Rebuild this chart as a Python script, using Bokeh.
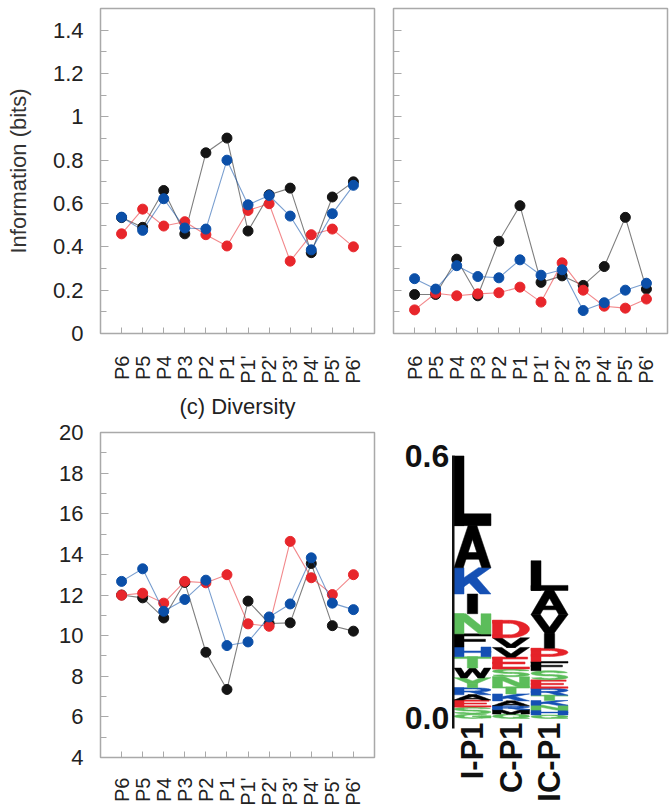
import math
import numpy as np
from bokeh.plotting import figure
from bokeh.models import FixedTicker, Range1d
from bokeh.core.properties import value
from bokeh.layouts import row, column
from bokeh.embed import file_html
from bokeh.resources import INLINE

# ---------------- data ----------------
positions = ["P6", "P5", "P4", "P3", "P2", "P1", "P1'", "P2'", "P3'", "P4'", "P5'", "P6'"]

info_left_black = [0.535, 0.49, 0.66, 0.46, 0.834, 0.902, 0.473, 0.64, 0.671, 0.373, 0.63, 0.70]
info_left_blue = [0.537, 0.476, 0.622, 0.487, 0.482, 0.80, 0.594, 0.637, 0.542, 0.386, 0.553, 0.684]
info_left_red = [0.46, 0.574, 0.496, 0.516, 0.456, 0.404, 0.568, 0.599, 0.334, 0.456, 0.482, 0.40]

info_right_black = [0.18, 0.18, 0.343, 0.174, 0.426, 0.59, 0.236, 0.266, 0.222, 0.309, 0.536, 0.205]
info_right_blue = [0.253, 0.205, 0.313, 0.263, 0.257, 0.34, 0.269, 0.294, 0.106, 0.142, 0.20, 0.232]
info_right_red = [0.109, 0.186, 0.174, 0.183, 0.188, 0.214, 0.145, 0.326, 0.20, 0.126, 0.117, 0.159]

diversity_black = [12.0, 11.86, 10.87, 12.62, 9.18, 7.35, 11.70, 10.6, 10.63, 13.55, 10.49, 10.22]
diversity_blue = [12.67, 13.29, 11.20, 11.78, 12.73, 9.51, 9.69, 10.92, 11.56, 13.83, 11.60, 11.28]
diversity_red = [11.99, 12.09, 11.60, 12.67, 12.60, 13.0, 10.58, 10.46, 14.64, 12.85, 12.02, 13.0]

info_yticks = [0, 0.2, 0.4, 0.6, 0.8, 1.0, 1.2, 1.4]
info_yminor = [0.1, 0.3, 0.5, 0.7, 0.9, 1.1, 1.3, 1.5]
div_yticks = [4, 6, 8, 10, 12, 14, 16, 18, 20]
div_yminor = [5, 7, 9, 11, 13, 15, 17, 19]
diversity_title = "(c) Diversity"

logo_columns = ["I-P1", "C-P1", "IC-P1"]
# stacks listed bottom -> top: letters and heights (bits)
logo_i_letters = ["G", "S", "E", "A", "R", "Y", "W", "T", "H", "F", "N", "I", "K", "A", "L"]
logo_i_heights = [0.010, 0.016, 0.016, 0.012, 0.016, 0.023, 0.022, 0.026, 0.022, 0.030, 0.046, 0.045, 0.060, 0.096, 0.159]
logo_c_letters = ["Q", "M", "R", "A", "K", "T", "N", "S", "E", "V", "V", "D"]
logo_c_heights = [0.010, 0.010, 0.009, 0.011, 0.016, 0.016, 0.023, 0.018, 0.027, 0.022, 0.022, 0.040]
logo_ic_letters = ["Q", "H", "N", "K", "T", "R", "E", "S", "F", "P", "I", "V", "A", "L"]
logo_ic_heights = [0.008, 0.011, 0.011, 0.011, 0.012, 0.016, 0.019, 0.021, 0.021, 0.030, 0.034, 0.043, 0.055, 0.068]
logo_ticks = [0.0, 0.6]
logo_tick_labels = ["0.0", "0.6"]

# ---------------- style / layout ----------------
FONT = "Liberation Sans"
AX = "#a9a9a9"
TXT = "#222222"
C_BLACK = "#141414"
C_BLUE = "#0b4fa8"
C_RED = "#e8262b"
L_BLUE = "#1550b4"
L_GREEN = "#5cbd5b"
L_RED = "#e52229"

FRAME_W, FRAME_H = 274, 325
LEFT_COL = (100, 10)
RIGHT_COL = (9, 2)
TOP_ROW = (8, 88)
BOT_ROW = (11, 54)

LETTER_COLORS = {
    "L": "#000000", "A": "#000000", "V": "#000000", "I": "#000000", "F": "#000000",
    "W": "#000000", "M": "#000000", "K": L_BLUE, "R": L_BLUE, "H": L_BLUE,
    "N": L_GREEN, "S": L_GREEN, "T": L_GREEN, "Y": L_GREEN, "G": L_GREEN, "Q": L_GREEN,
    "D": L_RED, "E": L_RED, "P": L_RED,
}


def line_panel(col, rw, y_lo, y_hi, yticks, yminor, series,
               show_ylabels, ylabel=None, xlabel=None, x_standoff=22):
    p = figure(frame_width=FRAME_W, frame_height=FRAME_H, output_backend="svg", toolbar_location=None,
               x_range=Range1d(-1, 12), y_range=Range1d(y_lo, y_hi),
               min_border_left=col[0], min_border_right=col[1],
               min_border_top=rw[0], min_border_bottom=rw[1])
    p.grid.visible = False
    p.outline_line_color = AX
    p.outline_line_width = 1.5
    p.background_fill_color = "white"
    p.border_fill_color = "white"
    xs = list(range(len(positions)))
    for vals, c in series:
        p.line(xs, vals, line_color=c, line_alpha=0.55, line_width=1.1)
        p.scatter(xs, vals, size=10, fill_color=c, line_color=c)

    xa = p.xaxis[0]
    xa.ticker = FixedTicker(ticks=xs)
    xa.major_label_overrides = {i: lab for i, lab in enumerate(positions)}
    xa.major_label_orientation = math.pi / 2
    xa.major_tick_in = 6
    xa.major_tick_out = 0
    xa.minor_tick_line_color = None
    xa.axis_line_color = AX
    xa.major_tick_line_color = AX
    xa.major_label_text_font = FONT
    xa.major_label_text_font_size = "20px"
    xa.major_label_text_color = TXT
    xa.major_label_standoff = x_standoff
    if xlabel:
        xa.axis_label = xlabel
        xa.axis_label_text_font = FONT
        xa.axis_label_text_font_size = "22px"
        xa.axis_label_text_font_style = "normal"
        xa.axis_label_text_color = TXT
        xa.axis_label_standoff = 7

    ya = p.yaxis[0]
    ya.ticker = FixedTicker(ticks=yticks, minor_ticks=yminor)
    ya.major_tick_in = 8
    ya.major_tick_out = 0
    ya.minor_tick_in = 6
    ya.minor_tick_out = 0
    ya.axis_line_color = AX
    ya.major_tick_line_color = AX
    ya.minor_tick_line_color = AX
    if show_ylabels:
        ya.major_label_overrides = {v: f"{v:g}" for v in yticks}
        ya.major_label_text_font = FONT
        ya.major_label_text_font_size = "22px"
        ya.major_label_text_color = TXT
        ya.major_label_standoff = 17
    else:
        ya.major_label_overrides = {v: "" for v in yticks}
        ya.major_label_standoff = 0
        ya.major_label_text_font_size = "1px"
    if ylabel:
        ya.axis_label = ylabel
        ya.axis_label_text_font = FONT
        ya.axis_label_text_font_size = "22px"
        ya.axis_label_text_font_style = "normal"
        ya.axis_label_text_color = "#333333"
        ya.axis_label_standoff = 19
    return p


f1 = line_panel(LEFT_COL, TOP_ROW, 0, 1.5, info_yticks, info_yminor,
                [(info_left_black, C_BLACK), (info_left_red, C_RED), (info_left_blue, C_BLUE)],
                True, ylabel="Information (bits)", xlabel=diversity_title)
f2 = line_panel(RIGHT_COL, TOP_ROW, 0, 1.5, info_yticks, info_yminor,
                [(info_right_black, C_BLACK), (info_right_red, C_RED), (info_right_blue, C_BLUE)],
                False)
f3 = line_panel(LEFT_COL, BOT_ROW, 4, 20, div_yticks, div_yminor,
                [(diversity_black, C_BLACK), (diversity_red, C_RED), (diversity_blue, C_BLUE)],
                True, x_standoff=20)

# ---------------- sequence logo ----------------
SX = 0.27
SY = 0.17


def rect(x0, y0, x1, y1):
    return [(x0, y0), (x1, y0), (x1, y1), (x0, y1)]


def ring(cx, cy, rx, ry, a0, a1, tx=SX, ty=SY, n=28):
    angs = np.radians(np.linspace(a0, a1, n))
    outer = [(cx + rx * math.cos(a), cy + ry * math.sin(a)) for a in angs]
    inner = [(cx + (rx - tx) * math.cos(a), cy + (ry - ty) * math.sin(a)) for a in angs[::-1]]
    return outer + inner


_s_t = 0.16
_s_r = (1 + _s_t) / 4
P_SHAPE = [rect(0, 0, SX, 1), rect(0, 1 - SY, 0.5, 1), rect(0, 0.38, 0.5, 0.38 + SY),
           ring(0.5, 0.69, 0.5, 0.31, -90, 90)]
SHAPES = {
    "L": [rect(0, 0, SX, 1), rect(0, 0, 1, SY)],
    "I": [rect(0.36, 0, 0.64, 1)],
    "A": [[(0, 0), (0.25, 0), (0.62, 1), (0.38, 1)], [(0.75, 0), (1, 0), (0.62, 1), (0.38, 1)],
          rect(0.15, 0.2, 0.85, 0.36)],
    "V": [[(0, 1), (0.25, 1), (0.62, 0), (0.38, 0)], [(0.75, 1), (1, 1), (0.62, 0), (0.38, 0)]],
    "K": [rect(0, 0, SX, 1), [(SX, 0.28), (1, 1), (0.66, 1), (SX, 0.62)],
          [(0.36, 0.5), (0.58, 0.68), (1, 0), (0.7, 0)]],
    "N": [rect(0, 0, SX, 1), rect(1 - SX, 0, 1, 1), [(0, 1), (0.32, 1), (1, 0), (0.68, 0)]],
    "H": [rect(0, 0, SX, 1), rect(1 - SX, 0, 1, 1), rect(0, 0.42, 1, 0.42 + SY)],
    "F": [rect(0, 0, SX, 1), rect(0, 1 - SY, 1, 1), rect(0, 0.42, 0.85, 0.42 + SY)],
    "E": [rect(0, 0, SX, 1), rect(0, 1 - SY, 0.95, 1), rect(0, 0.42, 0.88, 0.42 + SY), rect(0, 0, 1, SY)],
    "T": [rect(0, 1 - SY, 1, 1), rect(0.36, 0, 0.64, 1)],
    "Y": [[(0, 1), (0.28, 1), (0.64, 0.45), (0.36, 0.45)], [(0.72, 1), (1, 1), (0.64, 0.45), (0.36, 0.45)],
          rect(0.36, 0, 0.64, 0.46)],
    "W": [[(0, 1), (0.19, 1), (0.36, 0), (0.18, 0)], [(0.18, 0), (0.36, 0), (0.58, 1), (0.42, 1)],
          [(0.82, 0), (0.64, 0), (0.42, 1), (0.58, 1)], [(1, 1), (0.81, 1), (0.64, 0), (0.82, 0)]],
    "M": [rect(0, 0, 0.23, 1), rect(0.77, 0, 1, 1), [(0, 1), (0.25, 1), (0.62, 0), (0.38, 0)],
          [(1, 1), (0.75, 1), (0.38, 0), (0.62, 0)]],
    "D": [rect(0, 0, SX, 1), rect(0, 0, 0.45, SY), rect(0, 1 - SY, 0.45, 1),
          ring(0.45, 0.5, 0.55, 0.5, -90, 90)],
    "P": P_SHAPE,
    "R": P_SHAPE + [[(0.42, 0.45), (0.72, 0.45), (1, 0), (0.7, 0)]],
    "S": [ring(0.5, 1 - _s_r, 0.5, _s_r, 15, 270, ty=_s_t), ring(0.5, _s_r, 0.5, _s_r, -165, 90, ty=_s_t)],
    "G": [ring(0.5, 0.5, 0.5, 0.5, 40, 360), rect(0.5, 0.4, 1, 0.4 + SY), rect(1 - SX, 0.12, 1, 0.4 + SY)],
    "Q": [ring(0.5, 0.5, 0.5, 0.5, 0, 360), [(0.55, 0.3), (0.78, 0.3), (1.0, 0.0), (0.77, 0.0)]],
}

# logo panel: same frame width as the panel above it; 438 px per bit, 38.5 px per column
LOGO_PX_PER_BIT = 438.0
LOGO_PX_PER_COL = 38.5
LOGO_FRAME_H = 379
logo_x_lo = 1 - 79 / LOGO_PX_PER_COL
logo_y_top = logo_ticks[-1] + 23 / LOGO_PX_PER_BIT
logo_y_bot = logo_ticks[0] - 93 / LOGO_PX_PER_BIT
f4 = figure(frame_width=FRAME_W, frame_height=LOGO_FRAME_H, output_backend="svg", toolbar_location=None,
            x_range=Range1d(logo_x_lo, logo_x_lo + FRAME_W / LOGO_PX_PER_COL),
            y_range=Range1d(logo_y_bot, logo_y_top),
            min_border_left=RIGHT_COL[0], min_border_right=RIGHT_COL[1],
            min_border_top=BOT_ROW[0], min_border_bottom=0)
f4.grid.visible = False
f4.outline_line_color = None
f4.background_fill_color = "white"
f4.border_fill_color = "white"
f4.xaxis.visible = False
f4.yaxis.visible = False

pxs, pys, pcols = [], [], []
stacks = [(logo_i_letters, logo_i_heights), (logo_c_letters, logo_c_heights),
          (logo_ic_letters, logo_ic_heights)]
for ci, (letters, heights) in enumerate(stacks):
    xc = ci + 1
    x0, x1 = xc - 0.48, xc + 0.48
    base = 0.0
    for let, h in zip(letters, heights):
        y0, y1 = base, base + h
        for poly in SHAPES[let]:
            pxs.append([x0 + px * (x1 - x0) for px, _ in poly])
            pys.append([y0 + py * (y1 - y0) for _, py in poly])
            pcols.append(LETTER_COLORS[let])
        base = y1
f4.patches(pxs, pys, fill_color=pcols, line_color=pcols, line_width=0.5)

# vertical bits axis of the logo, at the left edge of the first column
axis_x = 0.5
f4.segment(x0=[axis_x], y0=[logo_ticks[0] - 0.023], x1=[axis_x], y1=[logo_ticks[-1]],
           line_color="#111111", line_width=2.5)
f4.text(x=[axis_x] * len(logo_ticks), y=logo_ticks, text=logo_tick_labels, x_offset=-4,
        text_align="right", text_baseline="middle", text_font=value(FONT),
        text_font_style="bold", text_font_size="32px", text_color="#111111")
f4.text(x=[1, 2, 3], y=[0.0] * 3, text=logo_columns, y_offset=4, angle=math.pi / 2,
        text_align="right", text_baseline="middle", text_font=value(FONT),
        text_font_style="bold", text_font_size="31px", text_color="#111111")

layout = row(column(f1, f3), column(f2, f4))
open("out.html", "w").write(file_html(layout, INLINE))
